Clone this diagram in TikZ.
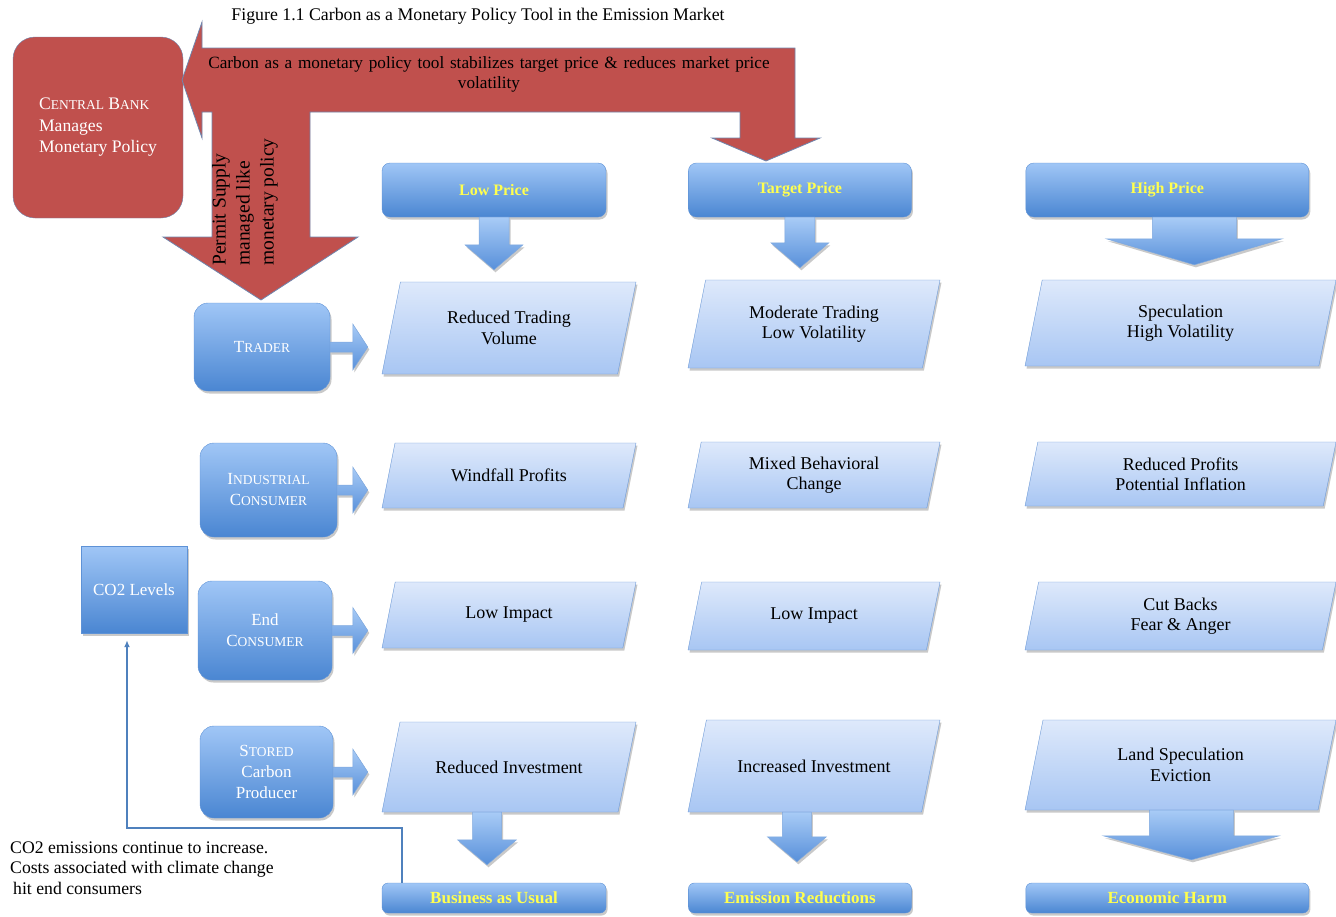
\documentclass[tikz,border=0pt]{standalone}
\usepackage{fontspec}
\setmainfont{Liberation Serif}
\usetikzlibrary{arrows.meta,positioning,calc,shadows}
\usepackage{xcolor}
\definecolor{bankred}{HTML}{C0504D}
\definecolor{bankline}{HTML}{6F86AE}
\definecolor{boxtop}{HTML}{A0C6F6}
\definecolor{boxbot}{HTML}{4A86D2}
\definecolor{boxline}{HTML}{5E92D6}
\definecolor{paratop}{HTML}{DEE9FB}
\definecolor{parabot}{HTML}{A8C6F3}
\definecolor{paraline}{HTML}{6B98D6}
\definecolor{arrtop}{HTML}{A8CBF6}
\definecolor{arrbot}{HTML}{5890DA}
\definecolor{hilite}{HTML}{FFFF4F}
\definecolor{fbline}{HTML}{4F81BD}
\tikzset{
  every node/.style={font=\fontsize{16}{19.5}\selectfont,text=black},
  softshadow/.style={drop shadow={shadow xshift=1.5pt,shadow yshift=-2.5pt,opacity=.3,fill=black!70}},
  bankbox/.style={draw=bankline,fill=bankred,rounded corners=22pt,text=white,align=left,minimum width=170pt,minimum height=181pt,font=\fontsize{17.6}{21.5}\selectfont},
  redarrow/.style={draw=bankline,fill=bankred,line width=.8pt},
  pricebox/.style={draw=boxline,top color=boxtop,bottom color=boxbot,rounded corners=8pt,minimum height=54pt,text=hilite,font=\fontsize{16}{19}\selectfont\bfseries,softshadow},
  resultbox/.style={pricebox,minimum height=30pt,rounded corners=6pt,font=\fontsize{17}{19}\selectfont\bfseries},
  actorbox/.style={draw=boxline,top color=boxtop,bottom color=boxbot,rounded corners=14pt,text=white,align=center,font=\fontsize{17}{21}\selectfont,softshadow},
  levelbox/.style={actorbox,rounded corners=0pt},
  outcome/.style={draw=paraline,top color=paratop,bottom color=parabot,softshadow},
  outcometext/.style={align=center,inner sep=0pt,font=\fontsize{18}{20.5}\selectfont},
  blockarrow/.style={draw=boxline!80,top color=arrtop,bottom color=arrbot,line width=.5pt,softshadow},
  feedback/.style={draw=fbline,line width=2pt,-{Latex[length=7pt,width=6pt]},shorten >=7pt},
  note/.style={align=left,font=\fontsize{17.7}{20.5}\selectfont,inner sep=0pt},
}
% fake small caps: big first letter, smaller capitals after it
\newcommand{\fsc}[2]{#1{\fontsize{13.5}{16}\selectfont #2}}
% slanted outcome box: name, x, y, width, height, text
\newcommand{\outcomebox}[6]{%
  \path[outcome] (#2-#4/2+0.2*#5,#3-#5/2) -- (#2+#4/2,#3-#5/2) -- (#2+#4/2-0.2*#5,#3+#5/2)
    -- (#2-#4/2,#3+#5/2) -- cycle;
  \node[outcometext,minimum width=#4pt,minimum height=#5pt] (#1) at (#2,#3) {#6};}
% block arrows: style, start, tip, shaft half width, head half width, head length
\newcommand{\blockdown}[6]{%
  \path[#1] let \p1=#2, \p2=#3 in
    (\x1-#4pt,\y1) -- (\x1+#4pt,\y1) -- (\x1+#4pt,\y2+#6pt) -- (\x1+#5pt,\y2+#6pt)
    -- (\x1,\y2) -- (\x1-#5pt,\y2+#6pt) -- (\x1-#4pt,\y2+#6pt) -- cycle;}
\newcommand{\blockright}[6]{%
  \path[#1] let \p1=#2, \p2=#3 in
    (\x1,\y1+#4pt) -- (\x2-#6pt,\y1+#4pt) -- (\x2-#6pt,\y1+#5pt) -- (\x2,\y1)
    -- (\x2-#6pt,\y1-#5pt) -- (\x2-#6pt,\y1-#4pt) -- (\x1,\y1-#4pt) -- cycle;}

\begin{document}
\begin{tikzpicture}[x=1pt,y=-1pt]
\useasboundingbox (0,0) rectangle (1336,916);

% title
\node[font=\fontsize{17.8}{20}\selectfont] (title) at (478,16) {Figure 1.1 Carbon as a Monetary Policy Tool in the Emission Market};

% central bank and policy arrows
\node[bankbox] (bank) at (98,127.5) {\fsc{C}{ENTRAL} \fsc{B}{ANK}\\Manages\\Monetary Policy};
\path[redarrow] (182,80) -- (202,22) -- (202,48) -- (795,48) -- (795,138) -- (820,138)
  -- (766,161) -- (712,138) -- (740,138) -- (740,112) -- (310,112) -- (310,237)
  -- (358,237) -- (261,300) -- (163,237) -- (212,237) -- (212,112) -- (202,112)
  -- (202,138) -- cycle;
\node[text width=620pt,align=center,font=\fontsize{17.2}{20}\selectfont] (policytxt) at (489,74)
{Carbon as a monetary policy tool stabilizes target price \& reduces market price\\volatility};
\node[rotate=90,align=left,font=\fontsize{19.5}{24}\selectfont] (permittxt) at (245,202)
{Permit Supply\\managed like\\monetary policy};

% price row
\node[pricebox,minimum width=224pt] (low) at (494,190) {Low Price};
\node[pricebox,minimum width=223pt,right=82pt of low] (target) {Target Price};
\node[pricebox,minimum width=283pt,right=114pt of target] (high) {High Price};

% market actors
\node[actorbox,minimum width=136pt,minimum height=88pt] (trader) at (262,347) {\fsc{T}{RADER}};
\node[actorbox,minimum width=137pt,minimum height=94pt] (industry) at (268.5,490) {\fsc{I}{NDUSTRIAL}\\\fsc{C}{ONSUMER}};
\node[actorbox,minimum width=134pt,minimum height=99pt] (endcons) at (265,630.5) {End\\\fsc{C}{ONSUMER}};
\node[actorbox,minimum width=133pt,minimum height=92pt] (stored) at (266.5,772) {\fsc{S}{TORED}\\Carbon\\Producer};
\node[levelbox,minimum width=106pt,minimum height=87pt] (co2) at (134,589.5) {CO2 Levels};

% low price column
\outcomebox{low1}{509}{328}{254}{92}{Reduced Trading\\Volume}
\outcomebox{low2}{509}{475.5}{254}{65}{Windfall Profits}
\outcomebox{low3}{509}{615}{254}{66}{Low Impact}
\outcomebox{low4}{509}{767}{254}{90}{Reduced Investment}

% target price column
\outcomebox{tgt1}{814}{324}{252}{88}{Moderate Trading\\Low Volatility}
\outcomebox{tgt2}{814}{475}{252}{66}{Mixed Behavioral\\Change}
\outcomebox{tgt3}{814}{616}{252}{68}{Low Impact}
\outcomebox{tgt4}{814}{766}{252}{92}{Increased Investment}

% high price column
\outcomebox{high1}{1180.5}{323}{311}{86}{Speculation\\High Volatility}
\outcomebox{high2}{1180.5}{474}{311}{64}{Reduced Profits\\Potential Inflation}
\outcomebox{high3}{1180.5}{616}{311}{68}{Cut Backs\\Fear \& Anger}
\outcomebox{high4}{1180.5}{765}{311}{90}{Land Speculation\\Eviction}

% results row
\node[resultbox,minimum width=224pt] (bau) at (494,898) {Business as Usual};
\node[resultbox,minimum width=223pt,right=82pt of bau] (emis) {Emission Reductions};
\node[resultbox,minimum width=283pt,right=114pt of emis] (harm) {Economic Harm};

% arrows from prices
\blockdown{blockarrow}{(low.south)}{($(low1.north)+(0,-12)$)}{15}{29}{25}
\blockdown{blockarrow}{(target.south)}{($(tgt1.north)+(0,-12)$)}{15}{29}{25}
\blockdown{blockarrow}{([xshift=27pt]high.south)}{($(high1.north)+(0,-15)$)}{42}{88}{26}

% arrows from actors
\blockright{blockarrow}{(trader.east)}{($(low1.south west)+(-14,0)$)}{5}{23}{15}
\blockright{blockarrow}{(industry.east)}{($(low2.south west)+(-14,0)$)}{5}{23}{15}
\blockright{blockarrow}{(endcons.east)}{($(low3.south west)+(-14,0)$)}{5}{23}{15}
\blockright{blockarrow}{(stored.east)}{($(low4.south west)+(-14,0)$)}{5}{23}{15}

% arrows to results
\blockdown{blockarrow}{($(low4.south -| bau.north)+(-7,0)$)}{($(bau.north)+(0,-18)$)}{14.5}{29.5}{25}
\blockdown{blockarrow}{($(tgt4.south -| emis.north)+(-3,0)$)}{($(emis.north)+(0,-21)$)}{14.5}{29.5}{25}
\blockdown{blockarrow}{($(high4.south -| harm.north)+(24,0)$)}{($(harm.north)+(0,-23)$)}{42}{88}{24}

% feedback to co2 levels
\coordinate (bend) at (127,828);
\draw[feedback] ([xshift=20pt]bau.north west) |- (bend) -- (bend |- co2.south);
\node[note,anchor=west] (costs) at (10,868)
{CO2 emissions continue to increase.\\Costs associated with climate change\\\hspace{3pt}hit end consumers};

\end{tikzpicture}
\end{document}
